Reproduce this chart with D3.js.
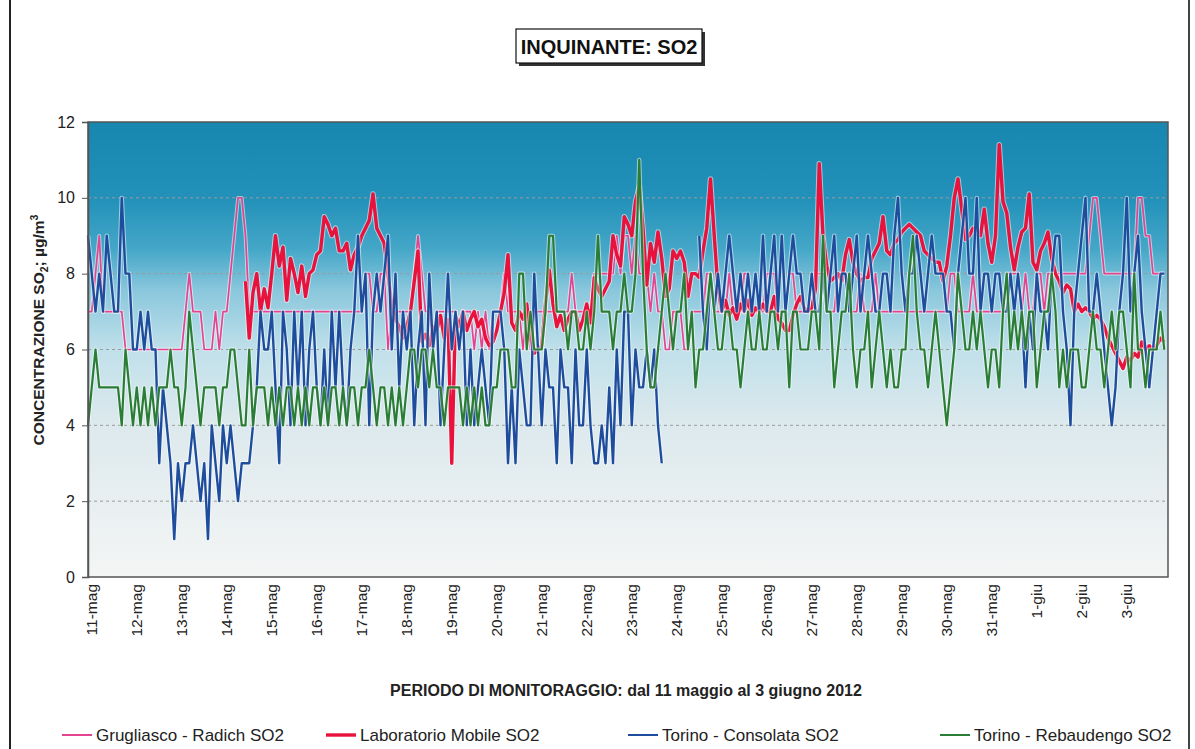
<!DOCTYPE html>
<html lang="it">

<head>
    <title>Inquinante SO2</title>
    <meta charset="utf-8">
    <script src="https://cdnjs.cloudflare.com/ajax/libs/d3/7.8.5/d3.min.js"></script>
    <style>
        body { margin: 0; background: #fff; }
        svg { display: block; font-family: "Liberation Sans", Arial, sans-serif; }
    </style>
</head>

<body>
    <div id="container1"></div>
    <script>
        // Data (2-hour readings, one row per day, from 11 May 2012)
        const dayLabels = ["11-mag", "12-mag", "13-mag", "14-mag", "15-mag", "16-mag", "17-mag", "18-mag",
            "19-mag", "20-mag", "21-mag", "22-mag", "23-mag", "24-mag", "25-mag", "26-mag", "27-mag",
            "28-mag", "29-mag", "30-mag", "31-mag", "1-giu", "2-giu", "3-giu"];
        const yTicks = [0, 2, 4, 6, 8, 10, 12];
        const seriesNames = ["Grugliasco - Radich SO2", "Laboratorio Mobile SO2", "Torino - Consolata SO2", "Torino - Rebaudengo SO2"];

        const grugliasco = [
            [7, 7, 8, 9, 7, 7, 7, 7, 7, 7, 6, 6],
            [6, 6, 6, 6, 6, 6, 6, 6, 6, 6, 6, 6],
            [6, 6, 7, 8, 7, 7, 7, 6, 6, 6, 7, 6],
            [7, 7, 8, 9, 10, 10, 9, 7, 7, 7, 7, 7],
            [7, 7, 7, 7, 7, 7, 7, 7, 7, 7, 7, 7],
            [7, 7, 7, 7, 7, 7, 7, 7, 7, 7, 7, 7],
            [7, 7, 8, 8, 7, 7, 8, 8, 6, 7, 7, 7],
            [7, 7, 7, 8, 9, 8, 7, 7, 6, 7, 7, 7],
            [7, 7, 7, 6, 7, 7, 7, 6, 7, 6, 7, 6],
            [7, 7, 7, 8, 7, 7, 7, 7, 6, 7, 6, 7],
            [7, 7, 7, 7, 7, 7, 7, 7, 7, 8, 7, 7],
            [7, 7, 7, 8, 8, 8, 8, 8, 8, 9, 8, 9],
            [9, 8, 9, 8, 8, 8, 7, 8, 7, 7, 6, 6],
            [7, 7, 7, 6, 6, 7, 7, 7, 7, 8, 8, 7],
            [7, 7, 7, 8, 7, 7, 7, 8, 8, 7, 7, 7],
            [7, 8, 8, 8, 7, 7, 7, 8, 8, 7, 7, 7],
            [7, 7, 8, 8, 8, 7, 7, 7, 8, 8, 8, 7],
            [7, 7, 8, 7, 7, 7, 8, 7, 7, 7, 7, 7],
            [7, 7, 7, 7, 7, 7, 7, 7, 7, 7, 7, 7],
            [7, 7, 8, 8, 7, 7, 7, 7, 8, 7, 7, 7],
            [7, 7, 7, 7, 7, 8, 8, 8, 8, 7, 8, 7],
            [7, 8, 8, 7, 8, 8, 8, 8, 8, 8, 8, 8],
            [8, 8, 8, 9, 10, 10, 9, 8, 8, 8, 8, 8],
            [8, 8, 8, 8, 10, 10, 9, 9, 8, 8, 8, 8]
        ];

        const laboratorio = [
            [null, null, null, null, null, null, null, null, null, null, null, null],
            [null, null, null, null, null, null, null, null, null, null, null, null],
            [null, null, null, null, null, null, null, null, null, null, null, null],
            [null, null, null, null, null, null, 7.8, 6.3, 7.5, 8.0, 7.0, 7.6],
            [7.1, 8.0, 9.0, 8.2, 8.7, 7.3, 8.4, 8.0, 7.5, 8.2, 7.4, 8.0],
            [8.1, 8.5, 8.6, 9.5, 9.3, 9.0, 9.2, 8.6, 8.6, 8.8, 8.1, 8.5],
            [8.7, 9.0, 9.2, 9.4, 10.1, 9.2, 9.0, 8.8, 8.0, 7.2, 6.8, 6.6],
            [6.3, 6.6, 7.0, 7.8, 8.6, 6.2, 6.4, 6.1, 6.6, 6.5, 6.9, 6.3],
            [6.8, 3.0, 6.9, 6.6, 7.0, 6.5, 6.8, 7.0, 6.6, 6.8, 6.3, 6.1],
            [6.2, 6.5, 7.0, 7.5, 8.5, 6.7, 6.5, 7.0, 6.8, 7.2, 6.3, 5.9],
            [6.0, 6.1, 7.2, 8.1, 7.2, 6.6, 6.9, 6.5, 6.8, 7.0, 7.0, 6.5],
            [6.8, 7.2, 6.7, 7.9, 7.6, 7.4, 7.6, 7.8, 9.0, 8.5, 8.2, 9.5],
            [9.3, 9.0, 9.9, 10.3, 9.2, 7.7, 8.8, 8.3, 9.1, 8.4, 7.4, 7.6],
            [8.6, 8.4, 8.6, 8.3, 7.4, 8.0, 8.0, 7.9, 8.6, 9.2, 10.5, 9.0],
            [7.6, 7.0, 7.3, 6.9, 7.1, 6.8, 7.2, 7.0, 7.3, 6.9, 7.1, 7.0],
            [7.2, 7.0, 7.0, 7.4, 6.8, 6.7, 6.5, 6.5, 6.9, 7.2, 7.4, 7.1],
            [7.0, 7.1, 7.6, 10.9, 9.0, 8.2, 7.8, 7.9, 8.0, 7.8, 8.5, 8.9],
            [8.3, 8.0, 7.8, 7.9, 7.9, 8.4, 8.6, 8.8, 9.5, 8.6, 8.5, 8.8],
            [8.9, 9.1, 9.2, 9.3, 9.2, 9.1, 9.0, 8.6, 8.5, 8.4, 8.3, 8.3],
            [7.8, 8.2, 9.0, 10.0, 10.5, 9.7, 8.9, 9.0, 9.2, 9.2, 9.0, 9.7],
            [8.8, 8.3, 9.0, 11.4, 9.9, 9.6, 8.7, 8.1, 8.7, 9.1, 9.2, 10.1],
            [8.3, 8.1, 8.6, 8.8, 9.1, 8.4, 8.0, 7.8, 7.5, 7.7, 7.6, 7.0],
            [7.2, 7.0, 7.1, 7.0, 6.8, 6.9, 6.8, 6.6, 6.3, 6.1, 5.9, 5.7],
            [5.5, 5.8, 5.7, 5.9, 5.8, 6.2, 6.0, 6.1, 6.0, 6.1, 6.3, 6.2]
        ];

        const consolata = [
            [9, 8, 7, 8, 7, 9, 8, 7, 7, 10, 8, 8],
            [6, 6, 7, 6, 7, 6, 6, 3, 5, 4, 3, 1],
            [3, 2, 3, 3, 4, 3, 2, 3, 1, 4, 3, 2],
            [4, 3, 4, 3, 2, 3, 3, 3, 4, 5, 7, 6],
            [6, 7, 5, 3, 7, 6, 4, 7, 5, 7, 4, 6],
            [7, 5, 4, 6, 4, 7, 5, 7, 5, 4, 6, 7],
            [9, 7, 8, 4, 7, 8, 7, 8, 9, 6, 8, 5],
            [7, 6, 7, 4, 6, 7, 4, 8, 6, 7, 4, 6],
            [8, 6, 7, 6, 7, 4, 6, 4, 5, 6, 5, 4],
            [7, 7, 7, 6, 3, 5, 3, 6, 5, 4, 4, 8],
            [6, 4, 6, 5, 5, 3, 6, 5, 5, 3, 6, 4],
            [4, 6, 4, 3, 3, 4, 3, 5, 3, 6, 4, 7],
            [7, 4, 6, 5, 5, 6, 5, 6, 4, 3, null, null],
            [null, null, null, null, null, null, null, 9, 7, 6, 8, 7],
            [8, 7, 8, 9, 8, 7, 8, 7, 8, 7, 8, 7],
            [9, 7, 8, 9, 7, 9, 7, 8, 9, 8, 8, 7],
            [7, 8, 7, 7, 8, 7, 8, 9, 7, 8, 8, 7],
            [8, 9, 7, 8, 9, 8, 7, 7, 8, 8, 7, 9],
            [10, 8, 7, 8, 8, 9, 8, 7, 8, 9, 8, 8],
            [8, 7, 7, 6, 8, 9, 10, 8, 8, 10, 7, 8],
            [8, 7, 8, 8, 7, 7, 8, 7, 8, 7, 5, 7],
            [6, 8, 7, 7, 6, 8, 9, 9, 7, 6, 4, 7],
            [8, 9, 10, 7, 7, 8, 7, 6, 5, 4, 5, 7],
            [8, 10, 7, 8, 9, 7, 6, 5, 6, 7, 8, 8]
        ];

        const rebaudengo = [
            [4, 5, 6, 5, 5, 5, 5, 5, 5, 4, 6, 5],
            [4, 5, 4, 5, 4, 5, 4, 5, 5, 5, 6, 5],
            [5, 4, 5, 7, 6, 5, 4, 5, 5, 5, 5, 4],
            [5, 5, 6, 6, 5, 4, 4, 6, 4, 5, 5, 5],
            [4, 5, 4, 5, 4, 5, 5, 4, 5, 4, 5, 4],
            [5, 5, 4, 5, 4, 5, 5, 4, 5, 4, 5, 5],
            [4, 5, 5, 6, 5, 4, 5, 5, 4, 5, 4, 5],
            [4, 5, 6, 6, 5, 6, 6, 5, 6, 5, 5, 4],
            [5, 5, 5, 5, 4, 5, 4, 5, 4, 5, 4, 4],
            [5, 5, 6, 6, 6, 5, 5, 8, 8, 6, 7, 6],
            [6, 6, 7, 9, 9, 7, 7, 7, 6, 7, 7, 6],
            [6, 7, 6, 7, 9, 7, 7, 7, 6, 7, 7, 8],
            [7, 7, 8, 11, 8, 6, 5, 5, 6, 7, 8, 7],
            [6, 7, 7, 8, 6, 7, 5, 6, 6, 7, 8, 7],
            [6, 6, 7, 7, 6, 6, 5, 6, 7, 6, 6, 7],
            [6, 6, 7, 7, 6, 7, 7, 5, 7, 7, 6, 6],
            [6, 7, 7, 6, 9, 7, 7, 5, 6, 7, 7, 8],
            [6, 5, 6, 6, 7, 5, 6, 7, 6, 5, 6, 5],
            [5, 6, 6, 8, 9, 7, 6, 6, 5, 6, 7, 6],
            [5, 4, 5, 6, 8, 7, 6, 6, 7, 6, 7, 6],
            [5, 6, 6, 5, 7, 8, 6, 7, 6, 7, 6, 7],
            [7, 5, 6, 7, 7, 8, 7, 5, 6, 5, 6, 6],
            [6, 5, 5, 6, 7, 6, 6, 5, 6, 7, 6, 7],
            [7, 6, 5, 8, 6, 6, 5, 6, 6, 6, 7, 6]
        ];

        // Chart dimensions
        const W = 1195, H = 749;
        const plot = { left: 88, top: 122, right: 1168, bottom: 577 };
        const start = new Date(2012, 4, 11);
        const end = new Date(2012, 5, 4);
        const stepMs = 2 * 3600 * 1000;

        const svg = d3.select("#container1")
            .append("svg")
            .attr("width", W)
            .attr("height", H);

        // Transform data
        const toPoints = rows => rows.flat().map((v, i) => ({ t: new Date(start.getTime() + i * stepMs), v }));
        const series = [
            { name: seriesNames[0], values: toPoints(grugliasco), color: "#e5438f", width: 1.7 },
            { name: seriesNames[1], values: toPoints(laboratorio), color: "#e8123d", width: 3.4 },
            { name: seriesNames[2], values: toPoints(consolata), color: "#1f4d9e", width: 2.4 },
            { name: seriesNames[3], values: toPoints(rebaudengo), color: "#2a7d34", width: 2.2 }
        ];

        // Create scales
        const xScale = d3.scaleTime()
            .domain([start, end])
            .range([plot.left, plot.right]);

        const yScale = d3.scaleLinear()
            .domain([0, 12])
            .range([plot.bottom, plot.top]);

        // Outer frame
        svg.append("line").attr("x1", 10).attr("x2", 10).attr("y1", 0).attr("y2", H)
            .attr("stroke", "#222").attr("stroke-width", 2);
        svg.append("line").attr("x1", 1189).attr("x2", 1189).attr("y1", 0).attr("y2", H)
            .attr("stroke", "#444").attr("stroke-width", 2);

        // Plot background gradient
        const grad = svg.append("defs").append("linearGradient")
            .attr("id", "bg")
            .attr("x1", 0).attr("y1", 0).attr("x2", 0).attr("y2", 1);
        [[0, "#1787af"], [0.17, "#2391b9"], [0.28, "#45a7c8"], [0.37, "#8ac7dc"],
         [0.5, "#c0e0ea"], [0.66, "#dce9ed"], [1, "#f4f5f5"]].forEach(([o, c]) => {
            grad.append("stop").attr("offset", o).attr("stop-color", c);
        });

        svg.append("rect")
            .attr("x", plot.left)
            .attr("y", plot.top)
            .attr("width", plot.right - plot.left)
            .attr("height", plot.bottom - plot.top)
            .attr("fill", "url(#bg)");

        // Gridlines
        svg.append("g")
            .selectAll("line")
            .data(yTicks.filter(d => d > 0 && d < 12))
            .join("line")
            .attr("x1", plot.left)
            .attr("x2", plot.right)
            .attr("y1", d => yScale(d))
            .attr("y2", d => yScale(d))
            .attr("stroke", "#9a9a9a")
            .attr("stroke-width", 1)
            .attr("stroke-dasharray", "3,3");

        // Draw data
        const line = d3.line()
            .defined(d => d.v !== null)
            .x(d => xScale(d.t))
            .y(d => yScale(d.v));

        const lines = svg.append("g");
        series.forEach(s => {
            lines.append("path")
                .attr("d", line(s.values))
                .attr("fill", "none")
                .attr("stroke", "#ffffff")
                .attr("stroke-opacity", 0.55)
                .attr("stroke-width", s.width + 2)
                .attr("stroke-linejoin", "round");
            lines.append("path")
                .attr("d", line(s.values))
                .attr("fill", "none")
                .attr("stroke", s.color)
                .attr("stroke-width", s.width)
                .attr("stroke-linejoin", "round");
        });

        // Plot frame
        svg.append("rect")
            .attr("x", plot.left)
            .attr("y", plot.top)
            .attr("width", plot.right - plot.left)
            .attr("height", plot.bottom - plot.top)
            .attr("fill", "none")
            .attr("stroke", "#555")
            .attr("stroke-width", 1.5);

        // Draw peripherals
        const yAxis = svg.append("g")
            .attr("transform", `translate(${plot.left},0)`)
            .call(d3.axisLeft(yScale).tickValues(yTicks).tickSize(6).tickPadding(7));
        yAxis.select(".domain").attr("stroke", "#555").attr("stroke-width", 1.5);
        yAxis.selectAll(".tick line").attr("stroke", "#555");
        yAxis.selectAll("text")
            .style("font-family", "'Liberation Sans', Arial, sans-serif")
            .style("font-size", "16px")
            .attr("fill", "#222");

        const dayScale = d3.scaleLinear().domain([0, 24]).range([plot.left, plot.right]);
        svg.append("g")
            .selectAll("text")
            .data(dayLabels)
            .join("text")
            .attr("transform", (d, i) => `translate(${dayScale(i) + 4},584) rotate(-90)`)
            .attr("text-anchor", "end")
            .attr("dy", "0.35em")
            .style("font-size", "15.5px")
            .attr("fill", "#222")
            .text(d => d);

        // Axis titles
        const yTitle = svg.append("text")
            .attr("transform", "translate(44,330) rotate(-90)")
            .attr("text-anchor", "middle")
            .style("font-size", "15.5px")
            .style("font-weight", "bold")
            .attr("fill", "#222");
        yTitle.append("tspan").text("CONCENTRAZIONE SO");
        yTitle.append("tspan").attr("dy", 4).style("font-size", "10.5px").text("2");
        yTitle.append("tspan").attr("dy", -4).text(";  µg/m");
        yTitle.append("tspan").attr("dy", -6).style("font-size", "10.5px").text("3");

        svg.append("text")
            .attr("x", 626)
            .attr("y", 696)
            .attr("text-anchor", "middle")
            .style("font-size", "16px")
            .style("font-weight", "bold")
            .attr("fill", "#222")
            .text("PERIODO DI MONITORAGGIO: dal 11 maggio al 3 giugno 2012");

        // Title box
        svg.append("rect")
            .attr("x", 519).attr("y", 32).attr("width", 186).attr("height", 34)
            .attr("fill", "#333");
        svg.append("rect")
            .attr("x", 516).attr("y", 29).attr("width", 186).attr("height", 34)
            .attr("fill", "#fff")
            .attr("stroke", "#111")
            .attr("stroke-width", 1.2);
        svg.append("text")
            .attr("x", 609)
            .attr("y", 54)
            .attr("text-anchor", "middle")
            .style("font-size", "20px")
            .style("font-weight", "bold")
            .attr("fill", "#111")
            .text("INQUINANTE: SO2");

        // Add legend
        const legendX = [62, 326, 628, 940];
        const legend = svg.append("g").attr("transform", "translate(0,735)");
        series.forEach((s, i) => {
            legend.append("line")
                .attr("x1", legendX[i]).attr("x2", legendX[i] + 30)
                .attr("y1", 0).attr("y2", 0)
                .attr("stroke", s.color)
                .attr("stroke-width", i === 1 ? 3.4 : 2);
            legend.append("text")
                .attr("x", legendX[i] + 34)
                .attr("y", 0)
                .attr("dy", "0.35em")
                .style("font-size", "17px")
                .attr("fill", "#222")
                .text(s.name);
        });
    </script>
</body>

</html>
